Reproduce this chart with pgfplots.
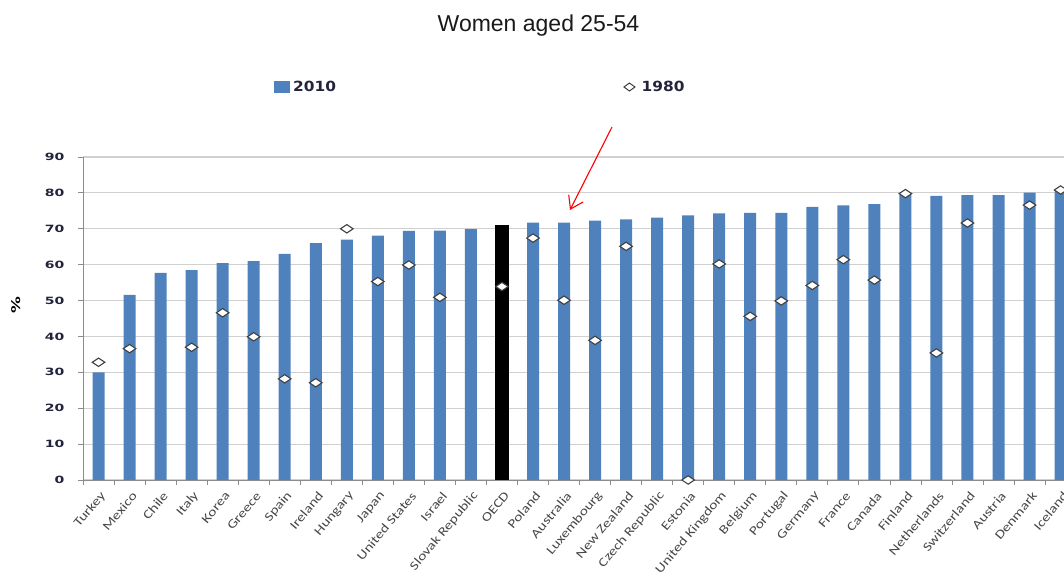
\documentclass[border=0pt]{standalone}
\usepackage{pgfplots}
\usepackage{pgfplotstable}
\pgfplotsset{compat=1.18}
\usepackage{fontspec}
\setmainfont{Liberation Sans}
\newfontfamily\tickfont[FakeStretch=1.4]{DejaVu Sans}
\newfontfamily\catfont[FakeStretch=1.25]{Carlito}
\newfontfamily\legfont[FakeStretch=1.1]{DejaVu Sans}
\usetikzlibrary{arrows.meta}
\definecolor{bar2010}{RGB}{79,129,189}
\definecolor{axgray}{RGB}{140,140,140}
\definecolor{gridgray}{RGB}{208,208,208}
\definecolor{tickcol}{RGB}{35,35,60}

% 2010 values (blue bars, OECD excluded)
\pgfplotstableread{
x y
0 30.0
1 51.6
2 57.7
3 58.5
4 60.4
5 61.0
6 63.0
7 66.0
8 67.0
9 68.1
10 69.4
11 69.5
12 69.9
14 71.7
15 71.7
16 72.3
17 72.6
18 73.1
19 73.7
20 74.3
21 74.4
22 74.4
23 76.1
24 76.5
25 76.9
26 79.5
27 79.2
28 79.4
29 79.4
30 80.1
31 80.6
}\barstable

% OECD 2010
\pgfplotstableread{
x y
13 70.9
}\oecdtable

% 1980 values
\pgfplotstableread{
x y
0 32.8
1 36.6
3 37.0
4 46.6
5 39.9
6 28.2
7 27.1
8 70.0
9 55.3
10 59.9
11 50.9
13 53.9
14 67.4
15 50.1
16 38.9
17 65.1
19 0.0
20 60.2
21 45.6
22 49.9
23 54.2
24 61.4
25 55.7
26 79.8
27 35.4
28 71.6
30 76.6
31 80.8
}\eightytable

\begin{document}
\begin{tikzpicture}
\useasboundingbox (0,0) rectangle (1064bp,576bp);
\begin{axis}[
  at={(83bp,96bp)}, anchor=south west,
  scale only axis, width=981bp, height=323bp,
  xmin=-0.5, xmax=31.11, ymin=0, ymax=90,
  axis x line*=bottom, axis y line*=left,
  axis line style={draw=axgray, line width=1bp},
  ytick={0,10,...,90},
  ymajorgrids, grid style={draw=gridgray, line width=1.1bp},
  tick align=outside, major tick length=5bp,
  tick style={draw=axgray, line width=0.8bp},
  xtick={-0.5,0.5,...,31.5}, xticklabels={},
  extra x ticks={0,1,...,31},
  extra x tick labels={Turkey,Mexico,Chile,Italy,Korea,Greece,Spain,Ireland,Hungary,Japan,United States,Israel,Slovak Republic,OECD,Poland,Australia,Luxembourg,New Zealand,Czech Republic,Estonia,United Kingdom,Belgium,Portugal,Germany,France,Canada,Finland,Netherlands,Switzerland,Austria,Denmark,Iceland},
  extra x tick style={major tick length=0pt,
    xticklabel style={font=\catfont\fontsize{12.5bp}{15bp}\selectfont, text=black!72, xshift=5.6bp, yshift=-12.7bp, rotate=50, anchor=east, inner sep=1bp}},
  /pgf/number format/assume math mode=true,
  yticklabel style={font=\tickfont\bfseries\fontsize{10bp}{12bp}\selectfont, text=tickcol, xshift=-10bp},
  ylabel={\%},
  every axis y label/.style={at={(axis description cs:-0.068,0.542)}, rotate=90, anchor=center, font=\tickfont\bfseries\fontsize{12bp}{14bp}\selectfont, text=black},
  clip mode=individual,
  legend columns=2,
  legend style={at={(0.1947,1.2167)}, anchor=west, draw=none, fill=none, inner sep=0pt,
    font=\legfont\bfseries\fontsize{14bp}{16bp}\selectfont, text=tickcol,
    /tikz/every even column/.append style={column sep=284bp},
    nodes={inner xsep=3.5bp, inner ysep=1bp}},
]
\addlegendimage{legend image code/.code={\fill[bar2010] (0bp,-5.5bp) rectangle (15bp,5.5bp);}}
\addlegendentry{2010}
\addlegendimage{legend image code/.code={\draw[fill=white,draw=black!75,line width=1bp] (0bp,0bp) -- (5.5bp,4bp) -- (11bp,0bp) -- (5.5bp,-4bp) -- cycle; \path (14bp,0bp);}}
\addlegendentry{1980}

\addplot[ybar, bar width=12bp, bar shift=0pt, fill=bar2010, draw=none, forget plot] table[x=x,y=y] {\barstable};
\addplot[ybar, bar width=13bp, bar shift=0pt, fill=black, draw=black, forget plot] table[x=x,y=y] {\oecdtable};
\addplot[only marks, mark=diamond*, mark size=4.2bp, mark options={xscale=2.0, fill=white, draw=black!75, line width=1.1bp}, forget plot] table[x=x,y=y] {\eightytable};
\end{axis}
\node[font=\fontsize{23bp}{27bp}\selectfont, anchor=base, text=black!90] at (538.5bp,544bp) {Women aged 25-54};
\draw[red, line width=1.1bp, -{Straight Barb[length=12bp,width=16bp]}] (612bp,449bp) -- (570bp,366bp);
\end{tikzpicture}
\end{document}
